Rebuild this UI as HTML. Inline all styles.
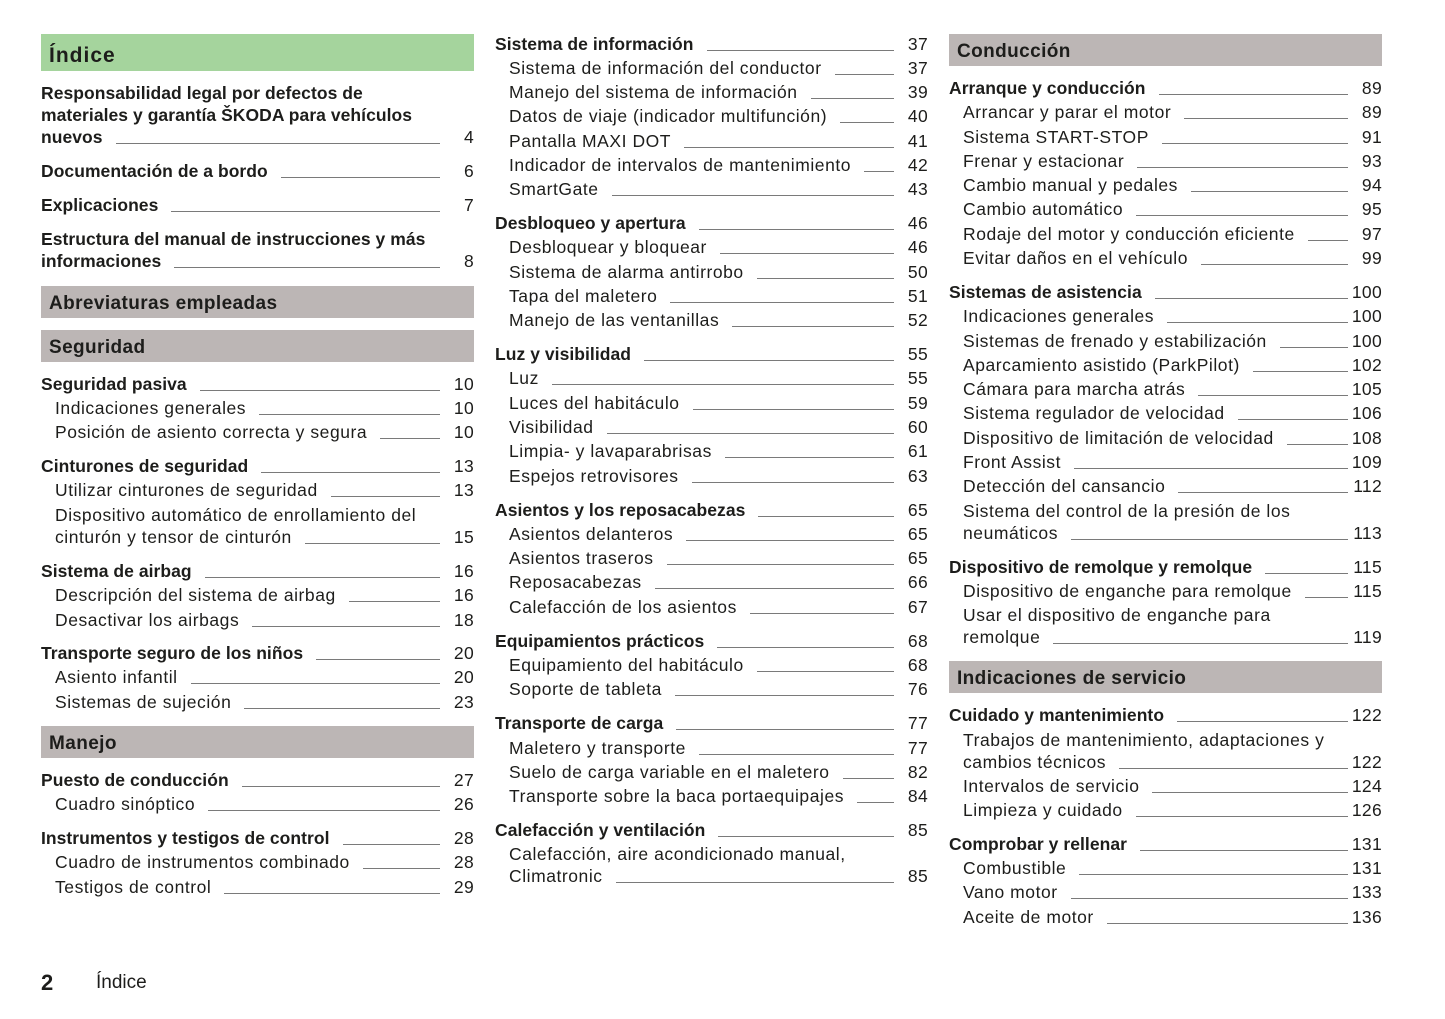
<!DOCTYPE html>
<html lang="es">
<head>
<meta charset="utf-8">
<style>
html,body{margin:0;padding:0}
body{width:1445px;height:1019px;background:#fff;position:relative;overflow:hidden;font-family:"Liberation Sans",sans-serif;color:#1d1d1b}
.r{position:absolute;height:24px;line-height:24px;display:flex;align-items:baseline;font-size:17.5px;letter-spacing:0.55px;white-space:nowrap;box-sizing:border-box}
.c1{left:41px;width:433px}
.c2{left:495px;width:433px}
.c3{left:949px;width:433px}
.s{padding-left:14px}
.b{font-weight:bold;letter-spacing:0.05px}
.l{flex:1 1 auto;min-width:0;height:0;border-bottom:1px solid #7a7a7a;margin-left:13px;position:relative;top:1px;align-self:baseline}
.n{width:34px;flex:none;text-align:right;letter-spacing:0.3px;font-weight:normal}
.h{position:absolute;height:32px;line-height:35px;background:#bcb6b5;font-weight:bold;font-size:19px;letter-spacing:0.4px;padding-left:8px;box-sizing:border-box;width:433px;white-space:nowrap;overflow:hidden}
.g{background:#a5d49d;height:37px;line-height:43px;font-size:21px;letter-spacing:1px}
.ft1{position:absolute;left:41px;top:969px;font-size:22px;font-weight:bold;line-height:28px}
.ft2{position:absolute;left:96px;top:970px;font-size:19px;line-height:26px}
</style>
</head>
<body>

<!-- Column 1 -->
<div class="h g" style="left:41px;top:34px">Índice</div>
<div class="r c1 b" style="top:81px"><span>Responsabilidad legal por defectos de</span></div>
<div class="r c1 b" style="top:103px"><span>materiales y garantía ŠKODA para vehículos</span></div>
<div class="r c1 b" style="top:125px"><span>nuevos</span><span class="l"></span><span class="n">4</span></div>
<div class="r c1 b" style="top:159px"><span>Documentación de a bordo</span><span class="l"></span><span class="n">6</span></div>
<div class="r c1 b" style="top:193px"><span>Explicaciones</span><span class="l"></span><span class="n">7</span></div>
<div class="r c1 b" style="top:227px"><span>Estructura del manual de instrucciones y más</span></div>
<div class="r c1 b" style="top:249px"><span>informaciones</span><span class="l"></span><span class="n">8</span></div>

<div class="h" style="left:41px;top:286px">Abreviaturas empleadas</div>
<div class="h" style="left:41px;top:330px">Seguridad</div>

<div class="r c1 b" style="top:372px"><span>Seguridad pasiva</span><span class="l"></span><span class="n">10</span></div>
<div class="r c1 s" style="top:396px"><span>Indicaciones generales</span><span class="l"></span><span class="n">10</span></div>
<div class="r c1 s" style="top:420px"><span>Posición de asiento correcta y segura</span><span class="l"></span><span class="n">10</span></div>
<div class="r c1 b" style="top:454px"><span>Cinturones de seguridad</span><span class="l"></span><span class="n">13</span></div>
<div class="r c1 s" style="top:478px"><span>Utilizar cinturones de seguridad</span><span class="l"></span><span class="n">13</span></div>
<div class="r c1 s" style="top:503px"><span>Dispositivo automático de enrollamiento del</span></div>
<div class="r c1 s" style="top:525px"><span>cinturón y tensor de cinturón</span><span class="l"></span><span class="n">15</span></div>
<div class="r c1 b" style="top:559px"><span>Sistema de airbag</span><span class="l"></span><span class="n">16</span></div>
<div class="r c1 s" style="top:583px"><span>Descripción del sistema de airbag</span><span class="l"></span><span class="n">16</span></div>
<div class="r c1 s" style="top:608px"><span>Desactivar los airbags</span><span class="l"></span><span class="n">18</span></div>
<div class="r c1 b" style="top:641px"><span>Transporte seguro de los niños</span><span class="l"></span><span class="n">20</span></div>
<div class="r c1 s" style="top:665px"><span>Asiento infantil</span><span class="l"></span><span class="n">20</span></div>
<div class="r c1 s" style="top:690px"><span>Sistemas de sujeción</span><span class="l"></span><span class="n">23</span></div>

<div class="h" style="left:41px;top:726px">Manejo</div>

<div class="r c1 b" style="top:768px"><span>Puesto de conducción</span><span class="l"></span><span class="n">27</span></div>
<div class="r c1 s" style="top:792px"><span>Cuadro sinóptico</span><span class="l"></span><span class="n">26</span></div>
<div class="r c1 b" style="top:826px"><span>Instrumentos y testigos de control</span><span class="l"></span><span class="n">28</span></div>
<div class="r c1 s" style="top:850px"><span>Cuadro de instrumentos combinado</span><span class="l"></span><span class="n">28</span></div>
<div class="r c1 s" style="top:875px"><span>Testigos de control</span><span class="l"></span><span class="n">29</span></div>

<!-- Column 2 -->
<div class="r c2 b" style="top:32px"><span>Sistema de información</span><span class="l"></span><span class="n">37</span></div>
<div class="r c2 s" style="top:56px"><span>Sistema de información del conductor</span><span class="l"></span><span class="n">37</span></div>
<div class="r c2 s" style="top:80px"><span>Manejo del sistema de información</span><span class="l"></span><span class="n">39</span></div>
<div class="r c2 s" style="top:104px"><span>Datos de viaje (indicador multifunción)</span><span class="l"></span><span class="n">40</span></div>
<div class="r c2 s" style="top:129px"><span>Pantalla MAXI DOT</span><span class="l"></span><span class="n">41</span></div>
<div class="r c2 s" style="top:153px"><span>Indicador de intervalos de mantenimiento</span><span class="l"></span><span class="n">42</span></div>
<div class="r c2 s" style="top:177px"><span>SmartGate</span><span class="l"></span><span class="n">43</span></div>
<div class="r c2 b" style="top:211px"><span>Desbloqueo y apertura</span><span class="l"></span><span class="n">46</span></div>
<div class="r c2 s" style="top:235px"><span>Desbloquear y bloquear</span><span class="l"></span><span class="n">46</span></div>
<div class="r c2 s" style="top:260px"><span>Sistema de alarma antirrobo</span><span class="l"></span><span class="n">50</span></div>
<div class="r c2 s" style="top:284px"><span>Tapa del maletero</span><span class="l"></span><span class="n">51</span></div>
<div class="r c2 s" style="top:308px"><span>Manejo de las ventanillas</span><span class="l"></span><span class="n">52</span></div>
<div class="r c2 b" style="top:342px"><span>Luz y visibilidad</span><span class="l"></span><span class="n">55</span></div>
<div class="r c2 s" style="top:366px"><span>Luz</span><span class="l"></span><span class="n">55</span></div>
<div class="r c2 s" style="top:391px"><span>Luces del habitáculo</span><span class="l"></span><span class="n">59</span></div>
<div class="r c2 s" style="top:415px"><span>Visibilidad</span><span class="l"></span><span class="n">60</span></div>
<div class="r c2 s" style="top:439px"><span>Limpia- y lavaparabrisas</span><span class="l"></span><span class="n">61</span></div>
<div class="r c2 s" style="top:464px"><span>Espejos retrovisores</span><span class="l"></span><span class="n">63</span></div>
<div class="r c2 b" style="top:498px"><span>Asientos y los reposacabezas</span><span class="l"></span><span class="n">65</span></div>
<div class="r c2 s" style="top:522px"><span>Asientos delanteros</span><span class="l"></span><span class="n">65</span></div>
<div class="r c2 s" style="top:546px"><span>Asientos traseros</span><span class="l"></span><span class="n">65</span></div>
<div class="r c2 s" style="top:570px"><span>Reposacabezas</span><span class="l"></span><span class="n">66</span></div>
<div class="r c2 s" style="top:595px"><span>Calefacción de los asientos</span><span class="l"></span><span class="n">67</span></div>
<div class="r c2 b" style="top:629px"><span>Equipamientos prácticos</span><span class="l"></span><span class="n">68</span></div>
<div class="r c2 s" style="top:653px"><span>Equipamiento del habitáculo</span><span class="l"></span><span class="n">68</span></div>
<div class="r c2 s" style="top:677px"><span>Soporte de tableta</span><span class="l"></span><span class="n">76</span></div>
<div class="r c2 b" style="top:711px"><span>Transporte de carga</span><span class="l"></span><span class="n">77</span></div>
<div class="r c2 s" style="top:736px"><span>Maletero y transporte</span><span class="l"></span><span class="n">77</span></div>
<div class="r c2 s" style="top:760px"><span>Suelo de carga variable en el maletero</span><span class="l"></span><span class="n">82</span></div>
<div class="r c2 s" style="top:784px"><span>Transporte sobre la baca portaequipajes</span><span class="l"></span><span class="n">84</span></div>
<div class="r c2 b" style="top:818px"><span>Calefacción y ventilación</span><span class="l"></span><span class="n">85</span></div>
<div class="r c2 s" style="top:842px"><span>Calefacción, aire acondicionado manual,</span></div>
<div class="r c2 s" style="top:864px"><span>Climatronic</span><span class="l"></span><span class="n">85</span></div>

<!-- Column 3 -->
<div class="h" style="left:949px;top:34px">Conducción</div>
<div class="r c3 b" style="top:76px"><span>Arranque y conducción</span><span class="l"></span><span class="n">89</span></div>
<div class="r c3 s" style="top:100px"><span>Arrancar y parar el motor</span><span class="l"></span><span class="n">89</span></div>
<div class="r c3 s" style="top:125px"><span>Sistema START-STOP</span><span class="l"></span><span class="n">91</span></div>
<div class="r c3 s" style="top:149px"><span>Frenar y estacionar</span><span class="l"></span><span class="n">93</span></div>
<div class="r c3 s" style="top:173px"><span>Cambio manual y pedales</span><span class="l"></span><span class="n">94</span></div>
<div class="r c3 s" style="top:197px"><span>Cambio automático</span><span class="l"></span><span class="n">95</span></div>
<div class="r c3 s" style="top:222px"><span>Rodaje del motor y conducción eficiente</span><span class="l"></span><span class="n">97</span></div>
<div class="r c3 s" style="top:246px"><span>Evitar daños en el vehículo</span><span class="l"></span><span class="n">99</span></div>
<div class="r c3 b" style="top:280px"><span>Sistemas de asistencia</span><span class="l"></span><span class="n">100</span></div>
<div class="r c3 s" style="top:304px"><span>Indicaciones generales</span><span class="l"></span><span class="n">100</span></div>
<div class="r c3 s" style="top:329px"><span>Sistemas de frenado y estabilización</span><span class="l"></span><span class="n">100</span></div>
<div class="r c3 s" style="top:353px"><span>Aparcamiento asistido (ParkPilot)</span><span class="l"></span><span class="n">102</span></div>
<div class="r c3 s" style="top:377px"><span>Cámara para marcha atrás</span><span class="l"></span><span class="n">105</span></div>
<div class="r c3 s" style="top:401px"><span>Sistema regulador de velocidad</span><span class="l"></span><span class="n">106</span></div>
<div class="r c3 s" style="top:426px"><span>Dispositivo de limitación de velocidad</span><span class="l"></span><span class="n">108</span></div>
<div class="r c3 s" style="top:450px"><span>Front Assist</span><span class="l"></span><span class="n">109</span></div>
<div class="r c3 s" style="top:474px"><span>Detección del cansancio</span><span class="l"></span><span class="n">112</span></div>
<div class="r c3 s" style="top:499px"><span>Sistema del control de la presión de los</span></div>
<div class="r c3 s" style="top:521px"><span>neumáticos</span><span class="l"></span><span class="n">113</span></div>
<div class="r c3 b" style="top:555px"><span>Dispositivo de remolque y remolque</span><span class="l"></span><span class="n">115</span></div>
<div class="r c3 s" style="top:579px"><span>Dispositivo de enganche para remolque</span><span class="l"></span><span class="n">115</span></div>
<div class="r c3 s" style="top:603px"><span>Usar el dispositivo de enganche para</span></div>
<div class="r c3 s" style="top:625px"><span>remolque</span><span class="l"></span><span class="n">119</span></div>

<div class="h" style="left:949px;top:661px">Indicaciones de servicio</div>

<div class="r c3 b" style="top:703px"><span>Cuidado y mantenimiento</span><span class="l"></span><span class="n">122</span></div>
<div class="r c3 s" style="top:728px"><span>Trabajos de mantenimiento, adaptaciones y</span></div>
<div class="r c3 s" style="top:750px"><span>cambios técnicos</span><span class="l"></span><span class="n">122</span></div>
<div class="r c3 s" style="top:774px"><span>Intervalos de servicio</span><span class="l"></span><span class="n">124</span></div>
<div class="r c3 s" style="top:798px"><span>Limpieza y cuidado</span><span class="l"></span><span class="n">126</span></div>
<div class="r c3 b" style="top:832px"><span>Comprobar y rellenar</span><span class="l"></span><span class="n">131</span></div>
<div class="r c3 s" style="top:856px"><span>Combustible</span><span class="l"></span><span class="n">131</span></div>
<div class="r c3 s" style="top:880px"><span>Vano motor</span><span class="l"></span><span class="n">133</span></div>
<div class="r c3 s" style="top:905px"><span>Aceite de motor</span><span class="l"></span><span class="n">136</span></div>

<!-- Footer -->
<div class="ft1">2</div>
<div class="ft2">Índice</div>

</body>
</html>
